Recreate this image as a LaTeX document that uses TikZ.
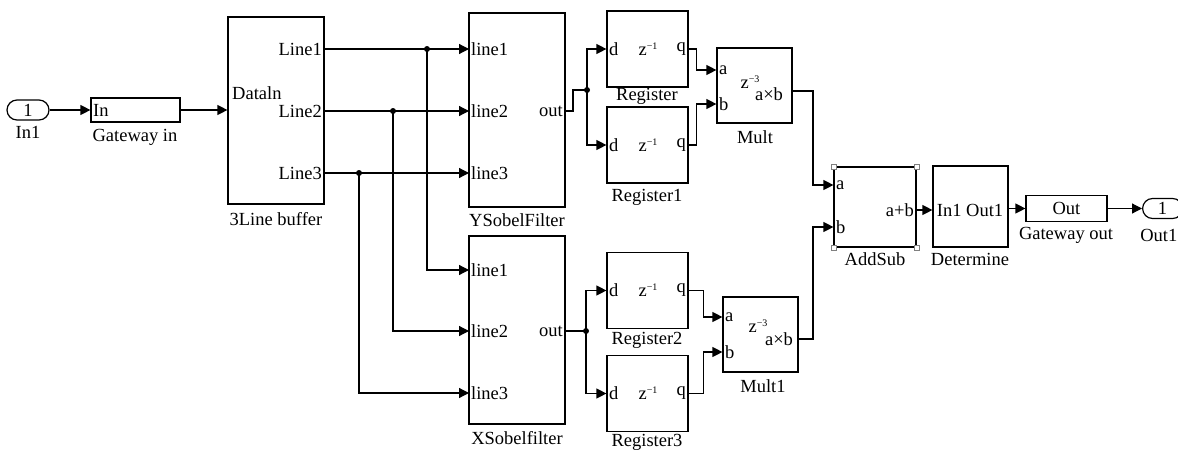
\documentclass[tikz,border=0pt]{standalone}
\usepackage{fontspec}
\setmainfont{Liberation Serif}
\usetikzlibrary{arrows.meta,calc}
\newcommand{\fs}{\fontsize{18.5}{20}\selectfont}
\newcommand{\zsup}[1]{z\raisebox{6pt}{\fontsize{10}{10}\selectfont −#1}}
\begin{document}
\begin{tikzpicture}[x=1pt,y=-1pt,
  blk/.style={draw,line width=1.2pt,inner sep=0pt},
  pill/.style={draw,line width=1.2pt,inner sep=0pt,rounded corners=10pt,font=\fs},
  txt/.style={inner sep=0pt,font=\fs},
  lbl/.style={inner sep=0pt,font=\fs},
  wire/.style={line width=1.2pt},
  arr/.style={line width=1.2pt,-{Triangle[length=10pt,width=10pt]}},
  dot/.style={circle,fill=black,inner sep=0pt,minimum size=6pt},
  handle/.style={draw=gray,line width=0.8pt,fill=white}]
\clip (0,0) rectangle (1178,450);
\fill[white] (0,0) rectangle (1178,450);

% ---------- blocks ----------
\node[pill,minimum width=42pt,minimum height=20pt] (in1) at (28,110) {1};
\node[lbl] (in1l) at (28,132) {In1};
\node[blk,minimum width=89pt,minimum height=24pt] (gwin) at (135.5,110) {};
\node[txt,anchor=west] (gwint) at (93,110) {In};
\node[lbl] (gwinl) at (135,137) {Gateway in};

\node[blk,minimum width=96pt,minimum height=187pt] (buf) at (276,110.5) {};
\node[txt,anchor=west] (bufd) at (232,93) {Dataln};
\node[txt,anchor=east] (bufl1) at (322,49) {Line1};
\node[txt,anchor=east] (bufl2) at (322,111) {Line2};
\node[txt,anchor=east] (bufl3) at (322,173) {Line3};
\node[lbl] (bufl) at (276,219) {3Line buffer};

\node[blk,minimum width=96pt,minimum height=194pt] (ys) at (517,110) {};
\node[txt,anchor=west] (ysl1) at (471,49) {line1};
\node[txt,anchor=west] (ysl2) at (471,111) {line2};
\node[txt,anchor=west] (ysl3) at (471,173) {line3};
\node[txt,anchor=east] (yso) at (563,111) {out};
\node[lbl] (ysl) at (517,220) {YSobelFilter};

\node[blk,minimum width=96pt,minimum height=188pt] (xs) at (517,330) {};
\node[txt,anchor=west] (xsl1) at (471,270) {line1};
\node[txt,anchor=west] (xsl2) at (471,331) {line2};
\node[txt,anchor=west] (xsl3) at (471,393) {line3};
\node[txt,anchor=east] (xso) at (563,331) {out};
\node[lbl] (xsl) at (517,438) {XSobelfilter};

\foreach \n/\cy/\lab/\ly in {reg/49/Register/96, reg1/145/Register1/197, reg2/290.5/Register2/340, reg3/393.5/Register3/442}{
  \node[blk,minimum width=81pt,minimum height=76pt] (\n) at (647.5,\cy) {};
  \node[txt,anchor=west] (\n-d) at (609,\cy) {d};
  \node[txt] (\n-z) at (648,\cy) {\zsup{1}};
  \node[txt,anchor=east] (\n-q) at (686,\cy) {q};
  \node[lbl] (\n-l) at (647,\ly) {\lab};
}

\node[blk,minimum width=75pt,minimum height=75pt] (mult) at (754.5,85.5) {};
\node[txt,anchor=west] (multa) at (719,70) {a};
\node[txt,anchor=west] (multb) at (719,104) {b};
\node[txt] (multz) at (750,82) {\zsup{3}};
\node[txt] (multab) at (769,94) {a×b};
\node[lbl] (multl) at (755,137) {Mult};

\node[blk,minimum width=75pt,minimum height=75pt] (mult1) at (760.5,334.5) {};
\node[txt,anchor=west] (mult1a) at (725,317) {a};
\node[txt,anchor=west] (mult1b) at (725,352) {b};
\node[txt] (mult1z) at (758,326) {\zsup{3}};
\node[txt] (mult1ab) at (779,339) {a×b};
\node[lbl] (mult1l) at (763,386) {Mult1};

\node[blk,minimum width=82pt,minimum height=80pt] (add) at (875,207) {};
\node[txt,anchor=west] (adda) at (836,185) {a};
\node[txt,anchor=west] (addb) at (836,227) {b};
\node[txt,anchor=east] (addo) at (914,210) {a+b};
\node[lbl] (addl) at (875,259) {AddSub};
\foreach \c in {north west,north east,south west,south east}
  \draw[handle] ($(add.\c)+(-2.5,-2.5)$) rectangle ($(add.\c)+(2.5,2.5)$);

\node[blk,minimum width=75pt,minimum height=81pt] (det) at (970.5,206.5) {};
\node[txt] (dett) at (970,210) {In1 Out1};
\node[lbl] (detl) at (970,259) {Determine};

\node[blk,minimum width=81pt,minimum height=26pt] (gwout) at (1066.5,208.5) {};
\node[txt] (gwoutt) at (1066.5,208.5) {Out};
\node[lbl] (gwoutl) at (1066,235) {Gateway out};

\node[pill,minimum width=40pt,minimum height=20pt,anchor=west] (out1) at (1142,208.5) {1};
\node[lbl,anchor=east] (out1l) at (1177.5,235) {Out1};

% ---------- port coordinates ----------
\coordinate (bo1) at (324,49);
\coordinate (bo2) at (324,111);
\coordinate (bo3) at (324,173);
\coordinate (yi1) at (469,49);
\coordinate (yi2) at (469,111);
\coordinate (yi3) at (469,173);
\coordinate (xi1) at (469,270);
\coordinate (xi2) at (469,331);
\coordinate (xi3) at (469,393);
\node[dot] (j1) at (427,49) {};
\node[dot] (j2) at (393,111) {};
\node[dot] (j3) at (359,173) {};
\coordinate (yout) at (565,111);
\coordinate (xout) at (565,331);
\node[dot] (jy) at (587,90) {};
\node[dot] (jx) at (586,331) {};

% ---------- connectors ----------
\draw[arr] (in1.east) -- (gwin.west);
\draw[arr] (gwin.east) -- (buf.west |- gwin.east);
\draw[arr] (bo1) -- (yi1);
\draw[arr] (bo2) -- (yi2);
\draw[arr] (bo3) -- (yi3);
\draw[arr] (j1.center) |- (xi1);
\draw[arr] (j2.center) |- (xi2);
\draw[arr] (j3.center) |- (xi3);

\draw[wire] (yout) -- ++(8,0) |- (jy.center);
\draw[arr] (jy.center) |- (reg.west);
\draw[arr] (jy.center) |- (reg1.west);
\draw[wire] (xout) -- (jx.center);
\draw[arr] (jx.center) |- (reg2.west);
\draw[arr] (jx.center) |- (reg3.west);

\draw[arr] (reg.east) -- ++(8,0) |- (mult.west |- multa);
\draw[arr] (reg1.east) -- ++(8,0) |- (mult.west |- multb);
\draw[arr] (reg2.east) -- ++(15,0) |- (mult1.west |- mult1a);
\draw[arr] (reg3.east) -- ++(15,0) |- (mult1.west |- mult1b);

\draw[arr] (mult.east |- 0,91) -- (813,91) |- (add.west |- adda);
\draw[arr] (mult1.east |- 0,339) -- (813,339) |- (add.west |- addb);
\draw[arr] (add.east |- addo) -- (det.west |- addo);
\draw[arr] (det.east |- gwout.west) -- (gwout.west);
\draw[arr] (gwout.east) -- (out1.west);
\end{tikzpicture}
\end{document}
